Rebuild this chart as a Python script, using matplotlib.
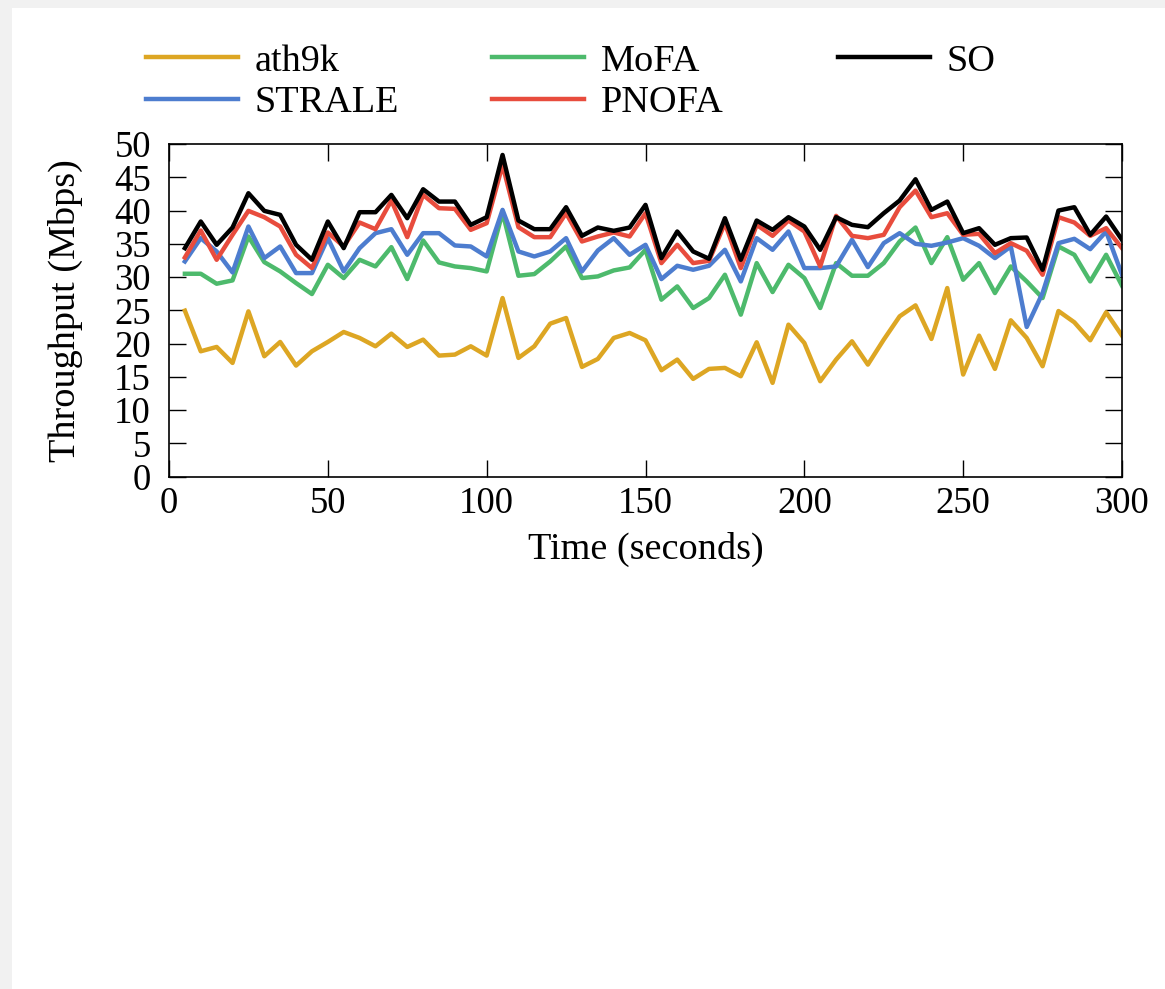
import matplotlib
matplotlib.use("Agg")
import matplotlib.pyplot as plt
from matplotlib.patches import Rectangle

plt.rcParams['font.family'] = ['Liberation Serif', 'DejaVu Serif']

# time axis: one sample every 5 s
time_s = list(range(5, 305, 5))

ath9k = [24.95, 18.85, 19.5, 17.1, 24.85, 18.1, 20.25, 16.7, 18.85, 20.25,
         21.75, 20.85, 19.6, 21.5, 19.5, 20.6, 18.2, 18.35, 19.6, 18.2,
         26.85, 17.85, 19.6, 23.0, 23.85, 16.5, 17.7, 20.85, 21.6, 20.5,
         16.0, 17.6, 14.7, 16.2, 16.35, 15.1, 20.2, 14.1, 22.85, 20.1,
         14.35, 17.6, 20.35, 16.85, 20.6, 24.1, 25.75, 20.7, 28.35, 15.35,
         21.2, 16.2, 23.5, 20.85, 16.6, 24.9, 23.2, 20.5, 24.7, 21.2]

strale = [32.35, 35.85, 33.85, 30.7, 37.6, 32.85, 34.6, 30.6, 30.6, 35.85,
          30.85, 34.35, 36.6, 37.2, 33.35, 36.6, 36.6, 34.75, 34.6, 33.1,
          40.1, 33.85, 33.1, 33.85, 35.85, 30.85, 34.0, 35.85, 33.35, 34.85,
          29.7, 31.7, 31.1, 31.7, 34.1, 29.35, 35.85, 34.1, 36.85, 31.35,
          31.35, 31.6, 35.6, 31.5, 35.1, 36.6, 35.0, 34.7, 35.2, 35.85,
          34.7, 32.85, 34.6, 22.5, 27.6, 35.1, 35.75, 34.2, 36.85, 30.35]

mofa = [30.5, 30.5, 29.0, 29.5, 36.1, 32.25, 30.85, 29.1, 27.45, 31.85,
        29.85, 32.6, 31.6, 34.5, 29.7, 35.5, 32.2, 31.6, 31.35, 30.85,
        39.7, 30.2, 30.45, 32.35, 34.6, 29.85, 30.1, 31.0, 31.45, 34.1,
        26.6, 28.6, 25.35, 26.85, 30.35, 24.35, 32.1, 27.75, 31.85, 29.85,
        25.35, 32.1, 30.2, 30.2, 32.1, 35.35, 37.45, 32.1, 36.0, 29.6,
        32.1, 27.6, 31.6, 29.35, 26.85, 34.6, 33.35, 29.35, 33.35, 28.7]

pnofa = [32.95, 37.0, 32.6, 36.35, 39.95, 39.0, 37.6, 33.35, 31.35, 36.7,
         34.6, 38.2, 37.2, 41.5, 36.0, 42.35, 40.35, 40.25, 37.1, 38.1,
         46.85, 37.5, 36.0, 36.0, 39.6, 35.35, 36.1, 36.7, 36.1, 39.6,
         32.1, 34.85, 32.1, 32.45, 38.1, 31.35, 37.85, 36.2, 38.5, 36.85,
         31.6, 39.2, 36.2, 35.85, 36.35, 40.5, 43.0, 39.0, 39.6, 36.35,
         36.5, 33.6, 35.1, 33.95, 30.35, 39.0, 38.2, 36.2, 37.35, 34.35]

so = [34.35, 38.35, 34.85, 37.45, 42.6, 39.95, 39.35, 34.85, 32.6, 38.35,
      34.35, 39.75, 39.75, 42.35, 38.85, 43.2, 41.35, 41.35, 37.85, 39.0,
      48.35, 38.5, 37.2, 37.2, 40.5, 36.2, 37.45, 36.95, 37.45, 40.85,
      32.85, 36.85, 33.85, 32.75, 38.85, 32.6, 38.5, 37.1, 39.0, 37.6,
      34.1, 39.0, 37.85, 37.5, 39.6, 41.5, 44.7, 40.1, 41.35, 36.6,
      37.35, 34.85, 35.85, 35.95, 31.1, 40.0, 40.5, 36.35, 39.1, 35.6]

x_ticks = [0, 50, 100, 150, 200, 250, 300]
y_ticks = [0, 5, 10, 15, 20, 25, 30, 35, 40, 45, 50]

fig = plt.figure(figsize=(11.65, 9.89), dpi=100)
fig.patch.set_facecolor('#f1f1f1')
# white card on the light grey page
fig.patches.append(Rectangle((12 / 1165, 0), 1, 1 - 8 / 989, transform=fig.transFigure,
                             facecolor='white', edgecolor='none', zorder=-10))

ax = fig.add_axes([169 / 1165, 1 - 476.7 / 989, (1122 - 169) / 1165, (476.7 - 144) / 989])

lw = 3.2
l_ath, = ax.plot(time_s, ath9k, color='#DDA623', lw=lw, label='ath9k')
l_mofa, = ax.plot(time_s, mofa, color='#4DBA6C', lw=lw, label='MoFA')
l_str, = ax.plot(time_s, strale, color='#4D7DCF', lw=lw, label='STRALE')
l_pn, = ax.plot(time_s, pnofa, color='#E84C3D', lw=lw, label='PNOFA')
l_so, = ax.plot(time_s, so, color='black', lw=lw, label='SO')

ax.set_xlim(0, 300)
ax.set_ylim(0, 50)
ax.set_xticks(x_ticks)
ax.set_yticks(y_ticks)
ax.tick_params(direction='in', length=12, width=1, labelsize=26.5,
               top=True, right=True)
ax.tick_params(axis='x', pad=7)
ax.tick_params(axis='y', pad=13)
for s in ax.spines.values():
    s.set_linewidth(1.2)

ax.set_xlabel('Time (seconds)', fontsize=27.5)
ax.set_ylabel('Throughput (Mbps)', fontsize=27.5)
ax.yaxis.set_label_coords(-0.09, 0.5)
ax.xaxis.set_label_coords(0.5, -0.165)

# one legend per column so each column starts where it does in the original
leg_cols = [([l_ath, l_str], ['ath9k', 'STRALE'], 146),
            ([l_mofa, l_pn], ['MoFA', 'PNOFA'], 492),
            ([l_so], ['SO'], 838)]
for handles, labels, x0 in leg_cols:
    fig.legend(handles, labels, loc='upper left',
               bbox_to_anchor=(x0 / 1165, 1 - 44 / 989),
               frameon=False, fontsize=27.5, handlelength=2.4, handletextpad=0.45,
               labelspacing=0.18, borderpad=0, borderaxespad=0)

fig.savefig('out.png', dpi=100)
